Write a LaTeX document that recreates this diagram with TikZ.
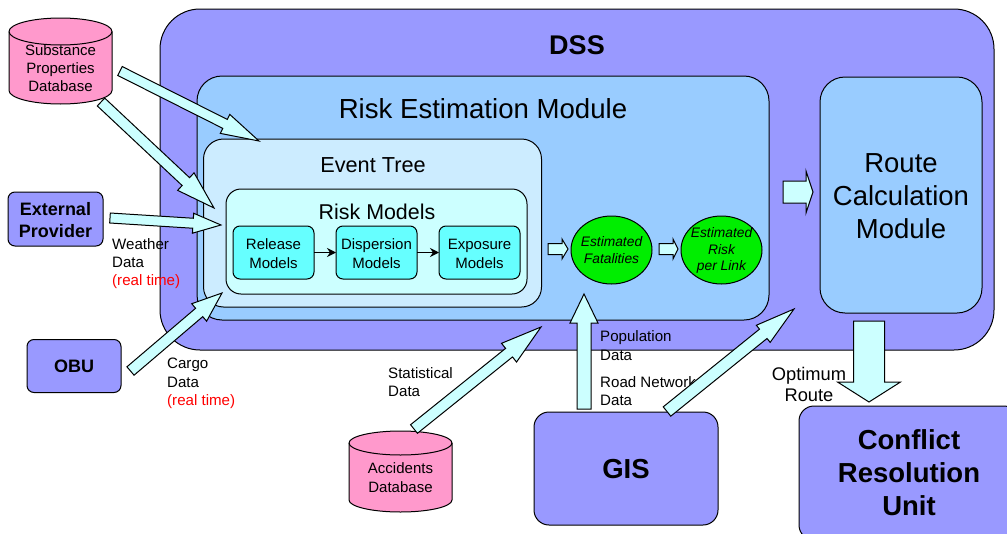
\documentclass[tikz,border=0pt]{standalone}
\usepackage{fontspec}
\setmainfont{Liberation Sans}
\usetikzlibrary{calc,shapes.geometric,arrows.meta}
\definecolor{dssblue}{HTML}{9999FF}
\definecolor{moduleblue}{HTML}{99CCFF}
\definecolor{treeblue}{HTML}{CCECFF}
\definecolor{riskcyan}{HTML}{CCFFFF}
\definecolor{modelcyan}{HTML}{66FFFF}
\definecolor{dbpink}{HTML}{FF99CC}
\definecolor{estgreen}{HTML}{00EE00}
\tikzset{
  box/.style={draw=black,rounded corners=#1,line width=1pt,inner sep=0pt,outer sep=0pt,align=center},
  box/.default=15pt,
  db/.style={draw=black,fill=dbpink,line width=1pt},
  est/.style={draw=black,fill=estgreen,ellipse,line width=1pt,inner sep=0pt,outer sep=0pt,minimum width=81pt,minimum height=68pt},
  esttext/.style={align=center,inner sep=0pt,font=\fontsize{13.8}{16.3}\selectfont\itshape},
  model/.style={box=7pt,fill=modelcyan,minimum width=81pt,minimum height=53pt},
  modeltext/.style={align=center,inner sep=0pt,font=\fontsize{15}{19}\selectfont},
  unit/.style={box,fill=dssblue,font=\fontsize{27.5}{33}\selectfont\bfseries},
  data/.style={inner sep=0pt,align=left,anchor=west,font=\fontsize{15.1}{18.3}\selectfont},
  flow/.style={draw=black,fill=riskcyan,line width=1pt,line join=miter}
}
\newcommand{\flowarrow}[5]{
  \coordinate (hb) at ($(#2)!#5!(#1)$);
  \draw[flow] ($(#1)!#3!90:(#2)$) -- ($(hb)!#3!-90:(#1)$) -- ($(hb)!#4!-90:(#1)$) -- (#2)
    -- ($(hb)!#4!90:(#1)$) -- ($(hb)!#3!90:(#1)$) -- ($(#1)!#3!-90:(#2)$) -- cycle;
}
\newcommand{\dbcan}[4]{
  \draw[db] (#1-51.5,#2+#4) -- (#1-51.5,#3-#4) arc[x radius=51.5pt,y radius=#4pt,start angle=180,end angle=360]
    -- (#1+51.5,#2+#4) arc[x radius=51.5pt,y radius=#4pt,start angle=0,end angle=180] -- cycle;
  \draw[db,fill=none] (#1-51.5,#2+#4) arc[x radius=51.5pt,y radius=#4pt,start angle=180,end angle=360];
}
\begin{document}
\begin{tikzpicture}[x=1pt,y=-1pt]
\useasboundingbox (0,0) rectangle (1007,533);
\node[box=40pt,fill=dssblue,minimum width=834pt,minimum height=341pt] (dss) at (577,179.5) {};
\node[box=25pt,fill=moduleblue,minimum width=572pt,minimum height=244pt] (riskmodule) at (483,198) {};
\node[box=20pt,fill=treeblue,minimum width=338pt,minimum height=168pt] (eventtree) at (372.5,223) {};
\node[box=15pt,fill=riskcyan,minimum width=301pt,minimum height=105pt] (riskmodels) at (376.5,241.5) {};
\node[font=\fontsize{27}{32}\selectfont\bfseries] (dsstitle) at (577,45) {DSS};
\node[font=\fontsize{27.6}{32}\selectfont] (risktitle) at (483,108.5) {Risk Estimation Module};
\node[font=\fontsize{21.7}{25}\selectfont] (treetitle) at (373,165) {Event Tree};
\node[font=\fontsize{21.4}{25}\selectfont] (modelstitle) at (377,212) {Risk Models};
\node[model] (release) at (273.5,252.5) {};
\node[model] (dispersion) at (376.5,252.5) {};
\node[model] (exposure) at (479.5,252.5) {};
\node[modeltext] (releasetext) at (273.5,253.5) {Release\\Models};
\node[modeltext] (dispersiontext) at (376.5,253.5) {Dispersion\\Models};
\node[modeltext] (exposuretext) at (479.5,253.5) {Exposure\\Models};
\draw[-{Stealth[length=9pt,width=9pt]},line width=1.5pt] (release) -- (dispersion);
\draw[-{Stealth[length=9pt,width=9pt]},line width=1.5pt] (dispersion) -- (exposure);
\node[est] (fatalities) at (611.5,250) {};
\node[est] (risklink) at (721.5,250) {};
\node[esttext] (fatalitiestext) at (611.5,250) {Estimated\\Fatalities};
\node[esttext] (risklinktext) at (721.5,250.5) {Estimated\\Risk\\per Link};
\node[box=25pt,fill=moduleblue,minimum width=162pt,minimum height=236pt] (route) at (901,195) {};
\node[font=\fontsize{27.5}{33}\selectfont,align=center] (routetext) at (901,196.5) {Route\\Calculation\\Module};
\dbcan{60.5}{18}{104}{13.5}
\node[font=\fontsize{15}{18}\selectfont,align=center] (substance) at (60.5,68) {Substance\\Properties\\Database};
\dbcan{400.5}{431}{512}{12}
\node[font=\fontsize{15}{19}\selectfont,align=center] (accidents) at (400.5,477.5) {Accidents\\Database};
\node[box=7pt,fill=dssblue,minimum width=95pt,minimum height=54pt] (provider) at (55.5,219) {};
\node[align=center,font=\fontsize{18}{22}\selectfont\bfseries] (providertext) at (55.5,220) {External\\Provider};
\node[box=7pt,fill=dssblue,minimum width=94pt,minimum height=53pt,font=\fontsize{18}{20}\selectfont\bfseries] (obu) at (74,366) {OBU};
\node[box,minimum width=184pt,minimum height=113pt,fill=dssblue] (gis) at (626,468.5) {};
\node[font=\fontsize{27.5}{33}\selectfont\bfseries] (gistext) at (626,469.5) {GIS};
\node[unit,minimum width=220pt,minimum height=134pt] (conflict) at (909,473) {Conflict\\Resolution\\Unit};
\node[data] (weather) at (112,263.5) {Weather\\Data\\\textcolor{red}{(real time)}};
\node[data] (cargo) at (167,383.5) {Cargo\\Data\\\textcolor{red}{(real time)}};
\node[data] (statistical) at (388,382) {Statistical\\Data};
\node[data] (population) at (600,345.5) {Population\\Data};
\node[data] (network) at (600,391) {Road Network\\Data};
\coordinate (a1) at (120,71);
\coordinate (b1) at (259,141);
\coordinate (a2) at (101,102);
\coordinate (b2) at (214,208);
\coordinate (a3) at (110,218);
\coordinate (b3) at (221,225);
\coordinate (a4) at (130.5,371);
\coordinate (b4) at (222,293);
\coordinate (a5) at (414,429);
\coordinate (b5) at (541,327);
\coordinate (a6) at (584,409);
\coordinate (b6) at (584,294);
\coordinate (a7) at (667,411.5);
\coordinate (b7) at (794,309);
\coordinate (a8) at (783,192);
\coordinate (b8) at (813,192);
\coordinate (a9) at (869,321);
\coordinate (b9) at (869,402);
\coordinate (a10) at (548,249);
\coordinate (b10) at (568,249);
\coordinate (a11) at (659,249);
\coordinate (b11) at (678,249);
\flowarrow{a1}{b1}{5pt}{10.6pt}{38pt}
\flowarrow{a2}{b2}{5.4pt}{12pt}{38.6pt}
\flowarrow{a3}{b3}{5pt}{10pt}{28pt}
\flowarrow{a4}{b4}{5.5pt}{11.5pt}{30pt}
\flowarrow{a5}{b5}{5.5pt}{12pt}{41pt}
\flowarrow{a6}{b6}{7pt}{14pt}{29pt}
\flowarrow{a7}{b7}{6pt}{11pt}{39.5pt}
\flowarrow{a8}{b8}{11pt}{21pt}{7pt}
\flowarrow{a9}{b9}{15.5pt}{31.5pt}{20pt}
\flowarrow{a10}{b10}{5.5pt}{10pt}{6pt}
\flowarrow{a11}{b11}{5.5pt}{10pt}{5pt}
\node[font=\fontsize{18.3}{21}\selectfont,align=center] (optimum) at (809,384.5) {Optimum\\Route};
\end{tikzpicture}
\end{document}
